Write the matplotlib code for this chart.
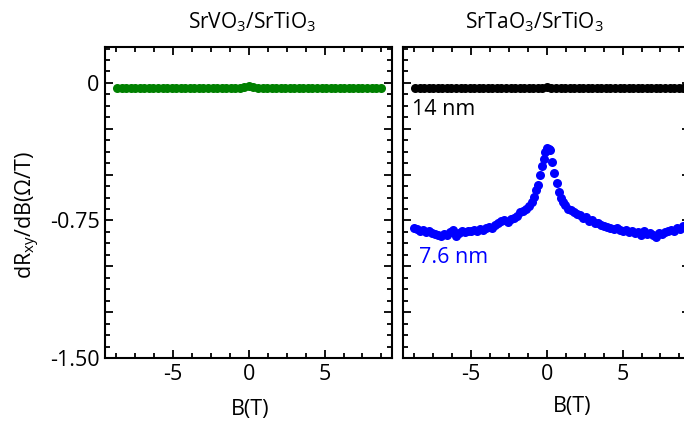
import matplotlib
matplotlib.use("Agg")
import matplotlib.pyplot as plt
from matplotlib.ticker import MultipleLocator, FuncFormatter

plt.rcParams['font.family'] = ['Open Sans', 'DejaVu Sans']
plt.rcParams['mathtext.fontset'] = 'custom'
plt.rcParams['mathtext.rm'] = 'Open Sans'
plt.rcParams['mathtext.it'] = 'Open Sans'

# field sweep (T) used for the two flat curves
B_flat = [-8.7, -8.4, -8.1, -7.8, -7.5, -7.2, -6.9, -6.6, -6.3, -6.0,
          -5.7, -5.4, -5.1, -4.8, -4.5, -4.2, -3.9, -3.6, -3.3, -3.0,
          -2.7, -2.4, -2.1, -1.8, -1.5, -1.2, -0.9, -0.6, -0.3, 0.0,
          0.3, 0.6, 0.9, 1.2, 1.5, 1.8, 2.1, 2.4, 2.7, 3.0,
          3.3, 3.6, 3.9, 4.2, 4.5, 4.8, 5.1, 5.4, 5.7, 6.0,
          6.3, 6.6, 6.9, 7.2, 7.5, 7.8, 8.1, 8.4, 8.7]

# SrVO3/SrTiO3
dR_svo = [-0.025, -0.025, -0.025, -0.025, -0.025, -0.025, -0.025, -0.025, -0.025, -0.025,
          -0.025, -0.025, -0.025, -0.025, -0.025, -0.025, -0.025, -0.025, -0.025, -0.025,
          -0.025, -0.025, -0.025, -0.025, -0.025, -0.025, -0.025, -0.025, -0.024, -0.018,
          -0.024, -0.025, -0.025, -0.025, -0.025, -0.025, -0.025, -0.025, -0.025, -0.025,
          -0.025, -0.025, -0.025, -0.025, -0.025, -0.025, -0.025, -0.025, -0.025, -0.025,
          -0.025, -0.025, -0.025, -0.025, -0.025, -0.025, -0.025, -0.025, -0.025]

# SrTaO3/SrTiO3, 14 nm
dR_14 = [-0.025, -0.025, -0.025, -0.025, -0.025, -0.025, -0.025, -0.025, -0.025, -0.025,
         -0.025, -0.025, -0.025, -0.025, -0.025, -0.025, -0.025, -0.025, -0.025, -0.025,
         -0.025, -0.025, -0.025, -0.025, -0.025, -0.025, -0.025, -0.025, -0.025, -0.024,
         -0.025, -0.025, -0.025, -0.025, -0.025, -0.025, -0.025, -0.025, -0.025, -0.025,
         -0.025, -0.025, -0.025, -0.025, -0.025, -0.025, -0.025, -0.025, -0.025, -0.025,
         -0.025, -0.025, -0.025, -0.025, -0.025, -0.025, -0.025, -0.025, -0.025]

# SrTaO3/SrTiO3, 7.6 nm
B_76 = [-8.8, -8.6, -8.4, -8.2, -8.0, -7.8, -7.6, -7.4, -7.2, -7.0,
        -6.8, -6.6, -6.4, -6.2, -6.0, -5.8, -5.6, -5.4, -5.2, -5.0,
        -4.8, -4.6, -4.4, -4.2, -4.0, -3.8, -3.6, -3.4, -3.2, -3.0,
        -2.8, -2.6, -2.4, -2.2, -2.0, -1.8, -1.6, -1.4, -1.2, -1.0,
        -0.85, -0.72, -0.6, -0.46, -0.33, -0.2, -0.1, 0.02, 0.12, 0.22,
        0.34, 0.5, 0.64, 0.78, 0.92, 1.05, 1.2, 1.4, 1.6, 1.8,
        2.0, 2.2, 2.4, 2.6, 2.8, 3.0, 3.2, 3.4, 3.6, 3.8,
        4.0, 4.2, 4.4, 4.6, 4.8, 5.0, 5.2, 5.4, 5.6, 5.8,
        6.0, 6.2, 6.4, 6.6, 6.8, 7.0, 7.2, 7.4, 7.6, 7.8,
        8.0, 8.2, 8.4, 8.6, 8.8, 9.0]
dR_76 = [-0.790, -0.795, -0.805, -0.800, -0.815, -0.810, -0.820, -0.825, -0.830, -0.835,
         -0.825, -0.830, -0.815, -0.800, -0.835, -0.820, -0.810, -0.815, -0.805, -0.810,
         -0.800, -0.805, -0.795, -0.800, -0.790, -0.785, -0.790, -0.775, -0.765, -0.755,
         -0.750, -0.760, -0.740, -0.735, -0.725, -0.705, -0.700, -0.685, -0.670, -0.650,
         -0.620, -0.585, -0.555, -0.500, -0.455, -0.415, -0.375, -0.355, -0.360, -0.365,
         -0.430, -0.490, -0.545, -0.595, -0.625, -0.650, -0.665, -0.685, -0.695, -0.705,
         -0.715, -0.720, -0.735, -0.730, -0.755, -0.750, -0.765, -0.765, -0.775, -0.780,
         -0.785, -0.790, -0.795, -0.790, -0.800, -0.805, -0.800, -0.815, -0.810, -0.820,
         -0.815, -0.830, -0.810, -0.825, -0.820, -0.830, -0.840, -0.820, -0.825, -0.815,
         -0.810, -0.800, -0.805, -0.790, -0.795, -0.780]

W, H = 684, 425
fig = plt.figure(figsize=(W / 100, H / 100), dpi=100)

def px_box(x0, y0, x1, y1):
    return [x0 / W, 1 - y1 / H, (x1 - x0) / W, (y1 - y0) / H]

ax1 = fig.add_axes(px_box(105, 47, 392, 358))
ax2 = fig.add_axes(px_box(403, 47, 690, 358))

def y_fmt(v, pos):
    if abs(v) < 1e-9:
        return '0'
    if abs(v / 0.75 - round(v / 0.75)) < 1e-6:
        return '%.2f' % v
    return ''

for ax in (ax1, ax2):
    ax.set_xlim(-9.5, 9.45)
    ax.set_ylim(-1.5, 0.196)
    ax.xaxis.set_major_locator(MultipleLocator(5))
    ax.xaxis.set_minor_locator(MultipleLocator(1.25))
    ax.yaxis.set_major_locator(MultipleLocator(0.25))
    ax.yaxis.set_minor_locator(MultipleLocator(0.0625))
    ax.tick_params(which='both', direction='in', top=True, right=True,
                   width=1.3, labelsize=15.5, pad=4)
    ax.tick_params(which='major', length=6)
    ax.tick_params(which='minor', length=3.5)
    for s in ax.spines.values():
        s.set_linewidth(1.5)

ax1.yaxis.set_major_formatter(FuncFormatter(y_fmt))
ax2.set_yticklabels([])
ax1.set_xticks([-5, 0, 5])
ax1.set_xticklabels(['-5', '0', '5'])
ax2.set_xticks([-5, 0, 5])
ax2.set_xticklabels(['-5', '0', '5'])

ms = 6.5
ax1.plot(B_flat, dR_svo, 'o', color='green', ms=ms, mec='none')
ax2.plot(B_flat + [9.0], dR_14 + [-0.025], 'o', color='black', ms=ms, mec='none')
ax2.plot(B_76, dR_76, 'o', color='blue', ms=ms, mec='none')

fs = 15.5
fig.text(252 / W, 1 - 28 / H, r'SrVO$_3$/SrTiO$_3$', ha='center', va='baseline', fontsize=15)
fig.text(534 / W, 1 - 28 / H, r'SrTaO$_3$/SrTiO$_3$', ha='center', va='baseline', fontsize=15)
fig.text(250 / W, 1 - 415 / H, 'B(T)', ha='center', va='baseline', fontsize=fs)
fig.text(572 / W, 1 - 412 / H, 'B(T)', ha='center', va='baseline', fontsize=fs)
fig.text(28 / W, 1 - 215 / H, r'dR$_{\mathrm{xy}}$/dB($\Omega$/T)', ha='center', va='center',
         rotation=90, fontsize=fs)
fig.text(412 / W, 1 - 115 / H, '14 nm', ha='left', va='baseline', fontsize=fs, color='black')
fig.text(419 / W, 1 - 263 / H, '7.6 nm', ha='left', va='baseline', fontsize=fs, color='blue')

fig.savefig('out.png', dpi=100)
